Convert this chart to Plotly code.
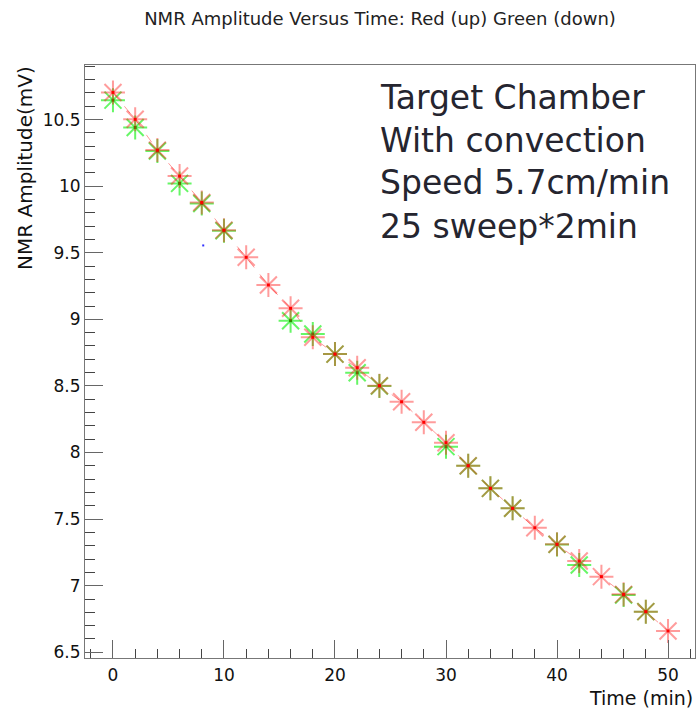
import plotly.graph_objects as go

# Sweep times (min) and NMR amplitudes (mV)
time_up = [0, 2, 4, 6, 8, 10, 12, 14, 16, 18, 20, 22, 24, 26, 28, 30,
           32, 34, 36, 38, 40, 42, 44, 46, 48, 50]
amp_up = [10.704, 10.502, 10.271, 10.076, 9.878, 9.670, 9.466, 9.258,
          9.083, 8.865, 8.739, 8.637, 8.502, 8.381, 8.227, 8.074,
          7.901, 7.731, 7.581, 7.435, 7.311, 7.185, 7.068, 6.935,
          6.805, 6.660]

time_down = [0, 2, 4, 6, 8, 10, 16, 18, 20, 22, 24, 30, 32, 34, 36, 40,
             42, 46, 48]
amp_down = [10.646, 10.441, 10.264, 10.021, 9.870, 9.665, 8.990, 8.890,
            8.739, 8.599, 8.500, 8.044, 7.900, 7.731, 7.581, 7.310,
            7.155, 6.930, 6.805]

stray_time = [8.13]
stray_amp = [9.555]

x_range = [-2.52, 52.43]
y_range = [6.457, 10.91]

note_lines = ["Target Chamber", "With convection",
              "Speed 5.7cm/min", "25 sweep*2min"]

W, H = 696, 711
L, R, T, B = 85, 1, 65, 53
plot_w = W - L - R
plot_h = H - T - B


def px_x(p):
    return (p - L) / plot_w


def px_y(p):
    return (H - B - p) / plot_h


fig = go.Figure()

# dashed guide through the "up" sweep
fig.add_trace(go.Scatter(
    x=time_up, y=amp_up, mode="lines",
    line=dict(color="rgba(255,0,0,0.4)", width=1, dash="dash"),
    hoverinfo="skip"))

# green (down) points
green_spoke = "rgba(0,240,0,0.6)"
fig.add_trace(go.Scatter(
    x=time_down, y=amp_down, mode="markers",
    marker=dict(symbol="asterisk-open", size=20, color=green_spoke,
                line=dict(color=green_spoke, width=2))))
fig.add_trace(go.Scatter(
    x=time_down, y=amp_down, mode="markers",
    marker=dict(symbol="square", size=3, color="#2a8a00",
                line=dict(width=0))))

# red (up) points
red_spoke = "rgba(255,20,20,0.42)"
fig.add_trace(go.Scatter(
    x=time_up, y=amp_up, mode="markers",
    marker=dict(symbol="asterisk-open", size=20, color=red_spoke,
                line=dict(color=red_spoke, width=2))))
fig.add_trace(go.Scatter(
    x=time_up, y=amp_up, mode="markers",
    marker=dict(symbol="square", size=3, color="#ff0000",
                line=dict(width=0))))

fig.add_trace(go.Scatter(
    x=stray_time, y=stray_amp, mode="markers",
    marker=dict(symbol="square", size=2, color="#3030ff",
                line=dict(width=0))))

sans = "DejaVu Sans, Liberation Sans, Arial"
axis_font = dict(family=sans, size=17, color="#111")

fig.update_layout(
    width=W, height=H,
    margin=dict(l=L, r=R, t=T, b=B, pad=0),
    paper_bgcolor="white", plot_bgcolor="white",
    showlegend=False,
    title=dict(text="NMR Amplitude Versus Time: Red (up) Green (down)",
               x=380 / W, xref="container", xanchor="center",
               y=1 - 19 / H, yref="container", yanchor="middle",
               font=dict(family=sans, size=18, color="#222")),
    xaxis=dict(range=x_range, showgrid=False, zeroline=False,
               showline=True, mirror=True, linecolor="#777", linewidth=1,
               ticks="inside", tickcolor="#666", ticklen=18, tickwidth=1,
               tick0=0, dtick=10, tickfont=axis_font,
               ticklabelstandoff=2,
               minor=dict(ticks="inside", tick0=0, dtick=2, ticklen=9,
                          tickcolor="#444", tickwidth=1, showgrid=False)),
    yaxis=dict(range=y_range, showgrid=False, zeroline=False,
               showline=True, mirror=True, linecolor="#777", linewidth=1,
               ticks="inside", tickcolor="#666", ticklen=18, tickwidth=1,
               tick0=6.5, dtick=0.5, tickfont=axis_font,
               minor=dict(ticks="inside", tick0=6.5, dtick=0.1, ticklen=10,
                          tickcolor="#444", tickwidth=1, showgrid=False)),
)

# axis titles placed at the far ends of each axis
fig.add_annotation(
    text="NMR Amplitude(mV)", textangle=-90, showarrow=False,
    xref="paper", yref="paper", x=px_x(25), y=px_y(64),
    xanchor="center", yanchor="top",
    font=dict(family=sans, size=20, color="#111"))
fig.add_annotation(
    text="Time (min)", showarrow=False,
    xref="paper", yref="paper", x=px_x(695), y=px_y(698),
    xanchor="right", yanchor="middle",
    font=dict(family=sans, size=19, color="#111"))

# note block, one line at a time
note_centers = [97, 140, 183, 226]
for line, cy in zip(note_lines, note_centers):
    fig.add_annotation(
        text=line, showarrow=False, align="left",
        xref="paper", yref="paper", x=px_x(378), y=px_y(cy),
        xanchor="left", yanchor="middle",
        font=dict(family="DejaVu Sans", size=33, color="#25252f"))

fig.write_html("out.html")
